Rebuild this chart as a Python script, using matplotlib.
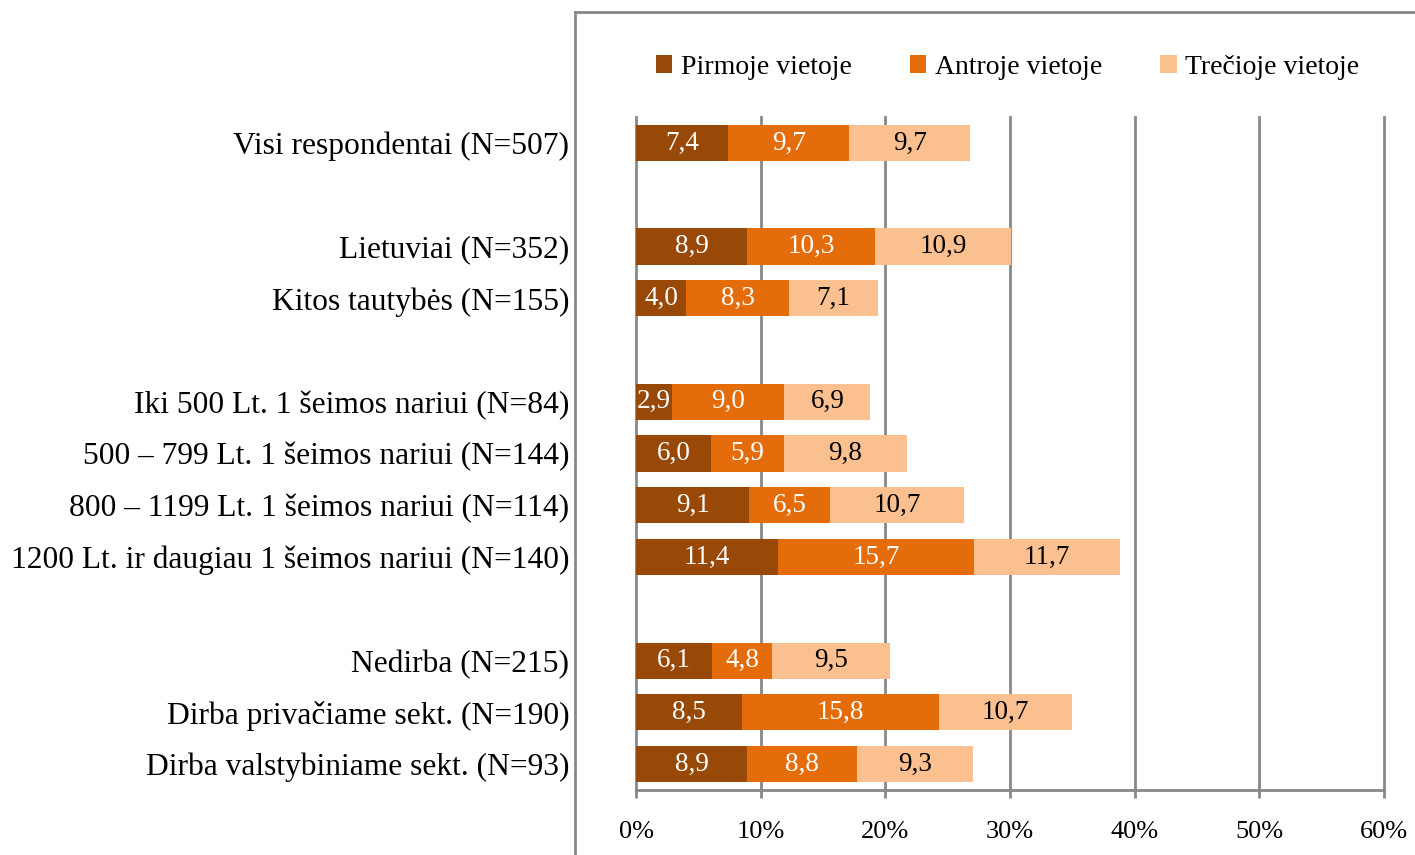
import matplotlib.pyplot as plt
import numpy as np
from matplotlib.lines import Line2D

plt.rcParams['font.family'] = ['Liberation Serif', 'DejaVu Serif']

# categories, top to bottom ("" = empty spacer row)
categories = [
    "Visi respondentai (N=507)",
    "",
    "Lietuviai (N=352)",
    "Kitos tautybės (N=155)",
    "",
    "Iki 500 Lt. 1 šeimos nariui (N=84)",
    "500 – 799 Lt. 1 šeimos nariui (N=144)",
    "800 – 1199 Lt. 1 šeimos nariui (N=114)",
    "1200 Lt. ir daugiau 1 šeimos nariui (N=140)",
    "",
    "Nedirba (N=215)",
    "Dirba privačiame sekt. (N=190)",
    "Dirba valstybiniame sekt. (N=93)",
]

pirmoje = [7.4, np.nan, 8.9, 4.0, np.nan, 2.9, 6.0, 9.1, 11.4, np.nan, 6.1, 8.5, 8.9]
antroje = [9.7, np.nan, 10.3, 8.3, np.nan, 9.0, 5.9, 6.5, 15.7, np.nan, 4.8, 15.8, 8.8]
trecioje = [9.7, np.nan, 10.9, 7.1, np.nan, 6.9, 9.8, 10.7, 11.7, np.nan, 9.5, 10.7, 9.3]

series_names = ["Pirmoje vietoje", "Antroje vietoje", "Trečioje vietoje"]
colors = ["#984807", "#E46C0A", "#FAC090"]
text_colors = ["white", "white", "black"]

fig = plt.figure(figsize=(14.15, 8.55), dpi=100)
ax = fig.add_axes([0.4495, 0.076, 0.5285, 0.787])

y = np.arange(len(categories))
left = np.zeros(len(categories))
for vals, name, col, tcol in zip([pirmoje, antroje, trecioje], series_names, colors, text_colors):
    v = np.nan_to_num(np.array(vals, dtype=float))
    ax.barh(y, v, left=left, height=0.7, color=col, label=name, zorder=3)
    for i, val in enumerate(vals):
        if not np.isnan(val):
            ax.text(left[i] + val / 2, y[i], f"{val:.1f}".replace(".", ","),
                    ha="center", va="center", color=tcol, fontsize=19.5, zorder=4)
    left = left + v

ax.set_xlim(0, 60)
ax.set_ylim(len(categories) - 0.5, -0.5)
ax.set_xticks(np.arange(0, 61, 10))
ax.set_xticklabels([f"{t}%" for t in range(0, 61, 10)], fontsize=19)
ax.set_yticks(y)
ax.set_yticklabels(categories, fontsize=22.7)
ax.tick_params(axis="y", length=0, pad=48)
ax.tick_params(axis="x", length=6, width=2, color="#888888", pad=16)

ax.grid(axis="x", color="#888888", linewidth=2, zorder=0)
for gl in ax.get_xgridlines():
    gl.set_clip_on(False)
for s in ["top", "right", "left"]:
    ax.spines[s].set_visible(False)
ax.spines["bottom"].set_color("#888888")
ax.spines["bottom"].set_linewidth(2)

fig.legend(loc="center", bbox_to_anchor=(0.712, 0.921), ncol=3, frameon=False,
           fontsize=20, handlelength=0.6, handleheight=0.6, handletextpad=0.3,
           columnspacing=2.1)

# chart area frame (cut off at the image edge)
fig.add_artist(Line2D([575 / 1415, 575 / 1415], [0, 1 - 12 / 855],
                      transform=fig.transFigure, color="#888888", linewidth=2))
fig.add_artist(Line2D([575 / 1415, 1], [1 - 12 / 855, 1 - 12 / 855],
                      transform=fig.transFigure, color="#888888", linewidth=2))

fig.savefig("out.png", dpi=100)
